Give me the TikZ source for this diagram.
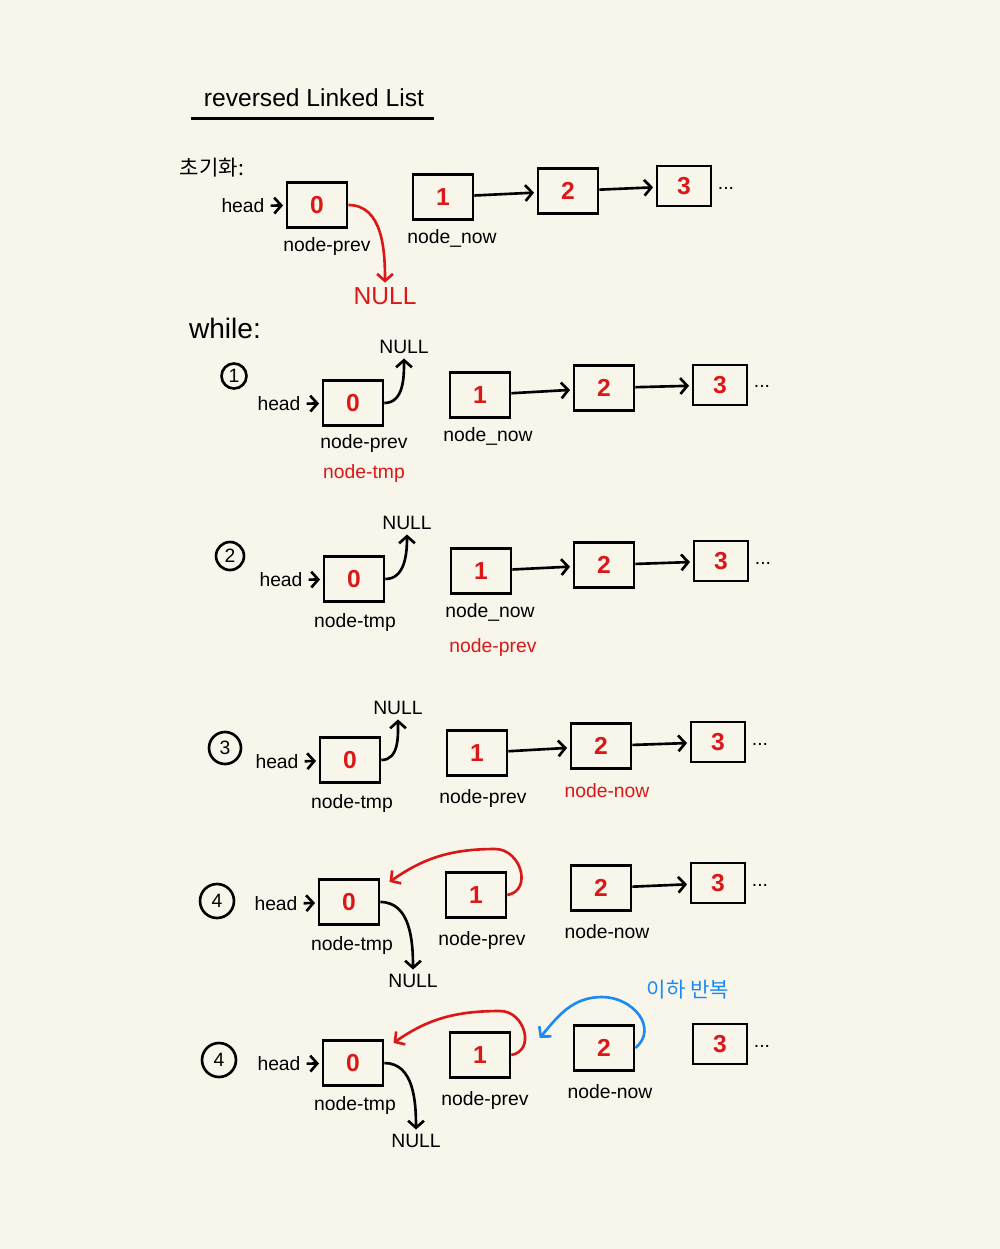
\documentclass[tikz,border=0pt]{standalone}
\usepackage{fontspec}
\setmainfont{Liberation Sans}
\newfontfamily\krfont{Noto Sans CJK KR}
\usepackage{xcolor}
\usetikzlibrary{arrows.meta}
\definecolor{paper}{RGB}{248,246,234}
\definecolor{penred}{RGB}{218,24,24}
\definecolor{penblue}{RGB}{28,138,245}
\tikzset{
  cell/.style={draw, line width=1.5pt, minimum width=1.2cm, minimum height=0.9cm,
    text=penred, font=\fontsize{14}{16}\selectfont\bfseries},
  lastcell/.style={cell, minimum width=1.08cm, minimum height=0.8cm},
  lbl/.style={font=\fontsize{11}{13}\selectfont},
  nul/.style={font=\fontsize{11}{13}\selectfont, inner sep=1pt},
  stepno/.style={circle, draw, line width=1.5pt, minimum size=0.6cm, inner sep=0pt,
    font=\fontsize{11}{13}\selectfont},
  link/.style={-{Straight Barb[length=4pt, width=9pt]}, line width=1.5pt, shorten >=1.5pt},
}
\begin{document}
\begin{tikzpicture}[x=0.02cm, y=-0.02cm]
  \useasboundingbox (0,0) rectangle (1000,1249);
  \fill[paper] (0,0) rectangle (1000,1249);

  \node[font=\fontsize{14}{16}\selectfont] (title) at (314,98) {reversed Linked List};
  \draw[line width=1.5pt] ([yshift=-3pt,xshift=-4pt]title.south west) -- ([yshift=-3pt,xshift=2pt]title.south east);

  % init
  \node[font=\krfont\fontsize{12}{14}\selectfont] (init) at (212,168) {초기화:};
  \node[lbl] (head0) at (243,206) {head};
  \node[cell] (b00) at (317,205) {0};
  \node[cell] (b01) at (443,197) {1};
  \node[cell] (b02) at (568,191) {2};
  \node[lastcell] (b03) at (684,186) {3};
  \node[lbl] (dots0) at (726,188) {...};
  \node[nul, text=penred, font=\fontsize{14}{16}\selectfont] (null0) at (385,296) {NULL};
  \node[lbl] at (327,246) {node-prev};
  \node[lbl] at (452,238) {node\_now};
  \draw[link] (head0) -- (b00);
  \draw[link] (b01) -- (b02);
  \draw[link] (b02) -- (b03);
  \draw[link, penred] (b00.east) to[out=0, in=90] (null0.north);

  \node[font=\fontsize{16}{18}\selectfont] (while) at (225,328) {while:};

  % 1
  \node[stepno, minimum size=0.5cm] (s1) at (234,376) {1};
  \node[lbl] (head1) at (279,404) {head};
  \node[cell] (b10) at (353,403) {0};
  \node[cell] (b11) at (480,395) {1};
  \node[cell] (b12) at (604,388) {2};
  \node[lastcell] (b13) at (720,385) {3};
  \node[lbl] (dots1) at (762,386) {...};
  \node[nul] (null1) at (404,347) {NULL};
  \node[lbl] at (364,443) {node-prev};
  \node[lbl, text=penred] at (364,473) {node-tmp};
  \node[lbl] at (488,436) {node\_now};
  \draw[link] (head1) -- (b10);
  \draw[link] (b11) -- (b12);
  \draw[link] (b12) -- (b13);
  \draw[link] (b10.east) to[out=0, in=-90] (null1.south);

  % 2
  \node[stepno, minimum size=0.56cm] (s2) at (230,556) {2};
  \node[lbl] (head2) at (281,580) {head};
  \node[cell] (b20) at (354,579) {0};
  \node[cell] (b21) at (481,571) {1};
  \node[cell] (b22) at (604,565) {2};
  \node[lastcell] (b23) at (721,561) {3};
  \node[lbl] (dots2) at (763,563) {...};
  \node[nul] (null2) at (407,523) {NULL};
  \node[lbl] at (355,622) {node-tmp};
  \node[lbl] at (490,612) {node\_now};
  \node[lbl, text=penred] at (493,647) {node-prev};
  \draw[link] (head2) -- (b20);
  \draw[link] (b21) -- (b22);
  \draw[link] (b22) -- (b23);
  \draw[link] (b20.east) to[out=0, in=-90] (null2.south);

  % 3
  \node[stepno, minimum size=0.64cm] (s3) at (225,748) {3};
  \node[lbl] (head3) at (277,762) {head};
  \node[cell] (b30) at (350,760) {0};
  \node[cell] (b31) at (477,753) {1};
  \node[cell] (b32) at (601,746) {2};
  \node[lastcell] (b33) at (718,742) {3};
  \node[lbl] (dots3) at (760,744) {...};
  \node[nul] (null3) at (398,708) {NULL};
  \node[lbl] at (352,803) {node-tmp};
  \node[lbl] at (483,798) {node-prev};
  \node[lbl, text=penred] at (607,791) {node-now};
  \draw[link] (head3) -- (b30);
  \draw[link] (b31) -- (b32);
  \draw[link] (b32) -- (b33);
  \draw[link] (b30.east) to[out=0, in=-90] (null3.south);

  % 4
  \node[stepno, minimum size=0.68cm] (s4) at (217,901) {4};
  \node[lbl] (head4) at (276,904) {head};
  \node[cell] (b40) at (349,902) {0};
  \node[cell] (b41) at (476,895) {1};
  \node[cell] (b42) at (601,888) {2};
  \node[lastcell] (b43) at (718,883) {3};
  \node[lbl] (dots4) at (760,885) {...};
  \node[nul] (null4) at (413,981) {NULL};
  \node[lbl] at (352,945) {node-tmp};
  \node[lbl] at (482,940) {node-prev};
  \node[lbl] at (607,932) {node-now};
  \coordinate (top4) at (495,849);
  \draw[link] (head4) -- (b40);
  \draw[link] (b42) -- (b43);
  \draw[link] (b40.east) to[out=0, in=90] (null4.north);
  \draw[link, penred] (b41.east) to[out=10, in=0, looseness=1.4] (top4)
    to[out=180, in=35] ([xshift=4pt,yshift=-3pt]b40.north east);

  % 4 again
  \node[stepno, minimum size=0.68cm] (s5) at (219,1060) {4};
  \node[lbl] (head5) at (279,1064) {head};
  \node[cell] (b50) at (353,1063) {0};
  \node[cell] (b51) at (480,1055) {1};
  \node[cell] (b52) at (604,1048) {2};
  \node[lastcell] (b53) at (720,1044) {3};
  \node[lbl] (dots5) at (762,1046) {...};
  \node[nul] (null5) at (416,1141) {NULL};
  \node[lbl] at (355,1105) {node-tmp};
  \node[lbl] at (485,1100) {node-prev};
  \node[lbl] at (610,1092) {node-now};
  \node[font=\krfont\fontsize{12}{14}\selectfont, text=penblue] (again) at (688,990) {이하 반복};
  \coordinate (top5) at (500,1011);
  \coordinate (btop) at (602,997);
  \coordinate (loop5) at (538,1040);
  \draw[link] (head5) -- (b50);
  \draw[link] (b50.east) to[out=0, in=90] (null5.north);
  \draw[link, penred] (b51.east) to[out=10, in=0, looseness=1.4] (top5)
    to[out=180, in=35] ([xshift=4pt,yshift=-3pt]b50.north east);
  \draw[link, penblue] (b52.east) to[out=40, in=0, looseness=1.3] (btop)
    to[out=180, in=50] (loop5);
\end{tikzpicture}
\end{document}
